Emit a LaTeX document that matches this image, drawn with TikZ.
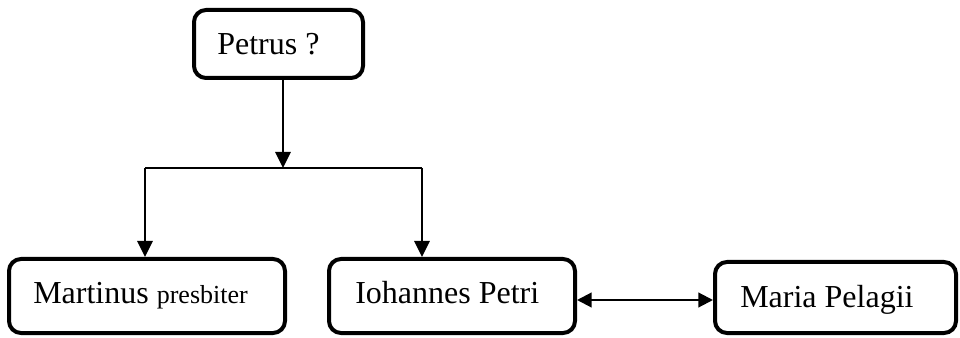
\documentclass[tikz,border=0pt]{standalone}
\usepackage{fontspec}
\setmainfont{Liberation Serif}
\usetikzlibrary{arrows.meta}
\begin{document}
\begin{tikzpicture}[x=0.75pt,y=-0.75pt,
  box/.style={draw,line width=3pt,rounded corners=9pt,inner sep=0pt},
  txt/.style={anchor=base west,inner sep=0pt,font=\fontsize{24}{28}\selectfont},
  conn/.style={line width=1.6pt},
  arr/.style={conn,-{Triangle[length=12pt,width=11.5pt]}},
  dbl/.style={conn,{Triangle[length=11pt,width=11pt]}-{Triangle[length=11pt,width=11pt]}}]
\useasboundingbox (0,0) rectangle (960,338);
% boxes
\node[box,minimum width=126.75pt,minimum height=51pt] (pbox) at (278.5,44) {};
\node[box,minimum width=207pt,minimum height=55.5pt] (mbox) at (147,296) {};
\node[box,minimum width=184.5pt,minimum height=55.5pt] (ibox) at (452,296) {};
\node[box,minimum width=180.75pt,minimum height=53.25pt] (pelbox) at (835.5,297.5) {};
% texts
\node[txt] (ptxt) at (217,55) {Petrus ?};
\node[txt] (mtxt) at (33,303) {Martinus {\fontsize{19.5}{24}\selectfont presbiter}};
\node[txt] (itxt) at (355,303) {Iohannes Petri};
\node[txt] (pltxt) at (740,307) {Maria Pelagii};
% connectors
\coordinate (junc) at (283,168);
\coordinate (lc) at (145,168);
\coordinate (rc) at (422,168);
\coordinate (hy) at (0,300);
\draw[arr] (pbox.south -| junc) -- (junc);
\draw[conn] (lc) -- (rc);
\draw[arr] (lc) -- (mbox.north -| lc);
\draw[arr] (rc) -- (ibox.north -| rc);
\draw[dbl] (ibox.east |- hy) -- (pelbox.west |- hy);
\end{tikzpicture}
\end{document}
